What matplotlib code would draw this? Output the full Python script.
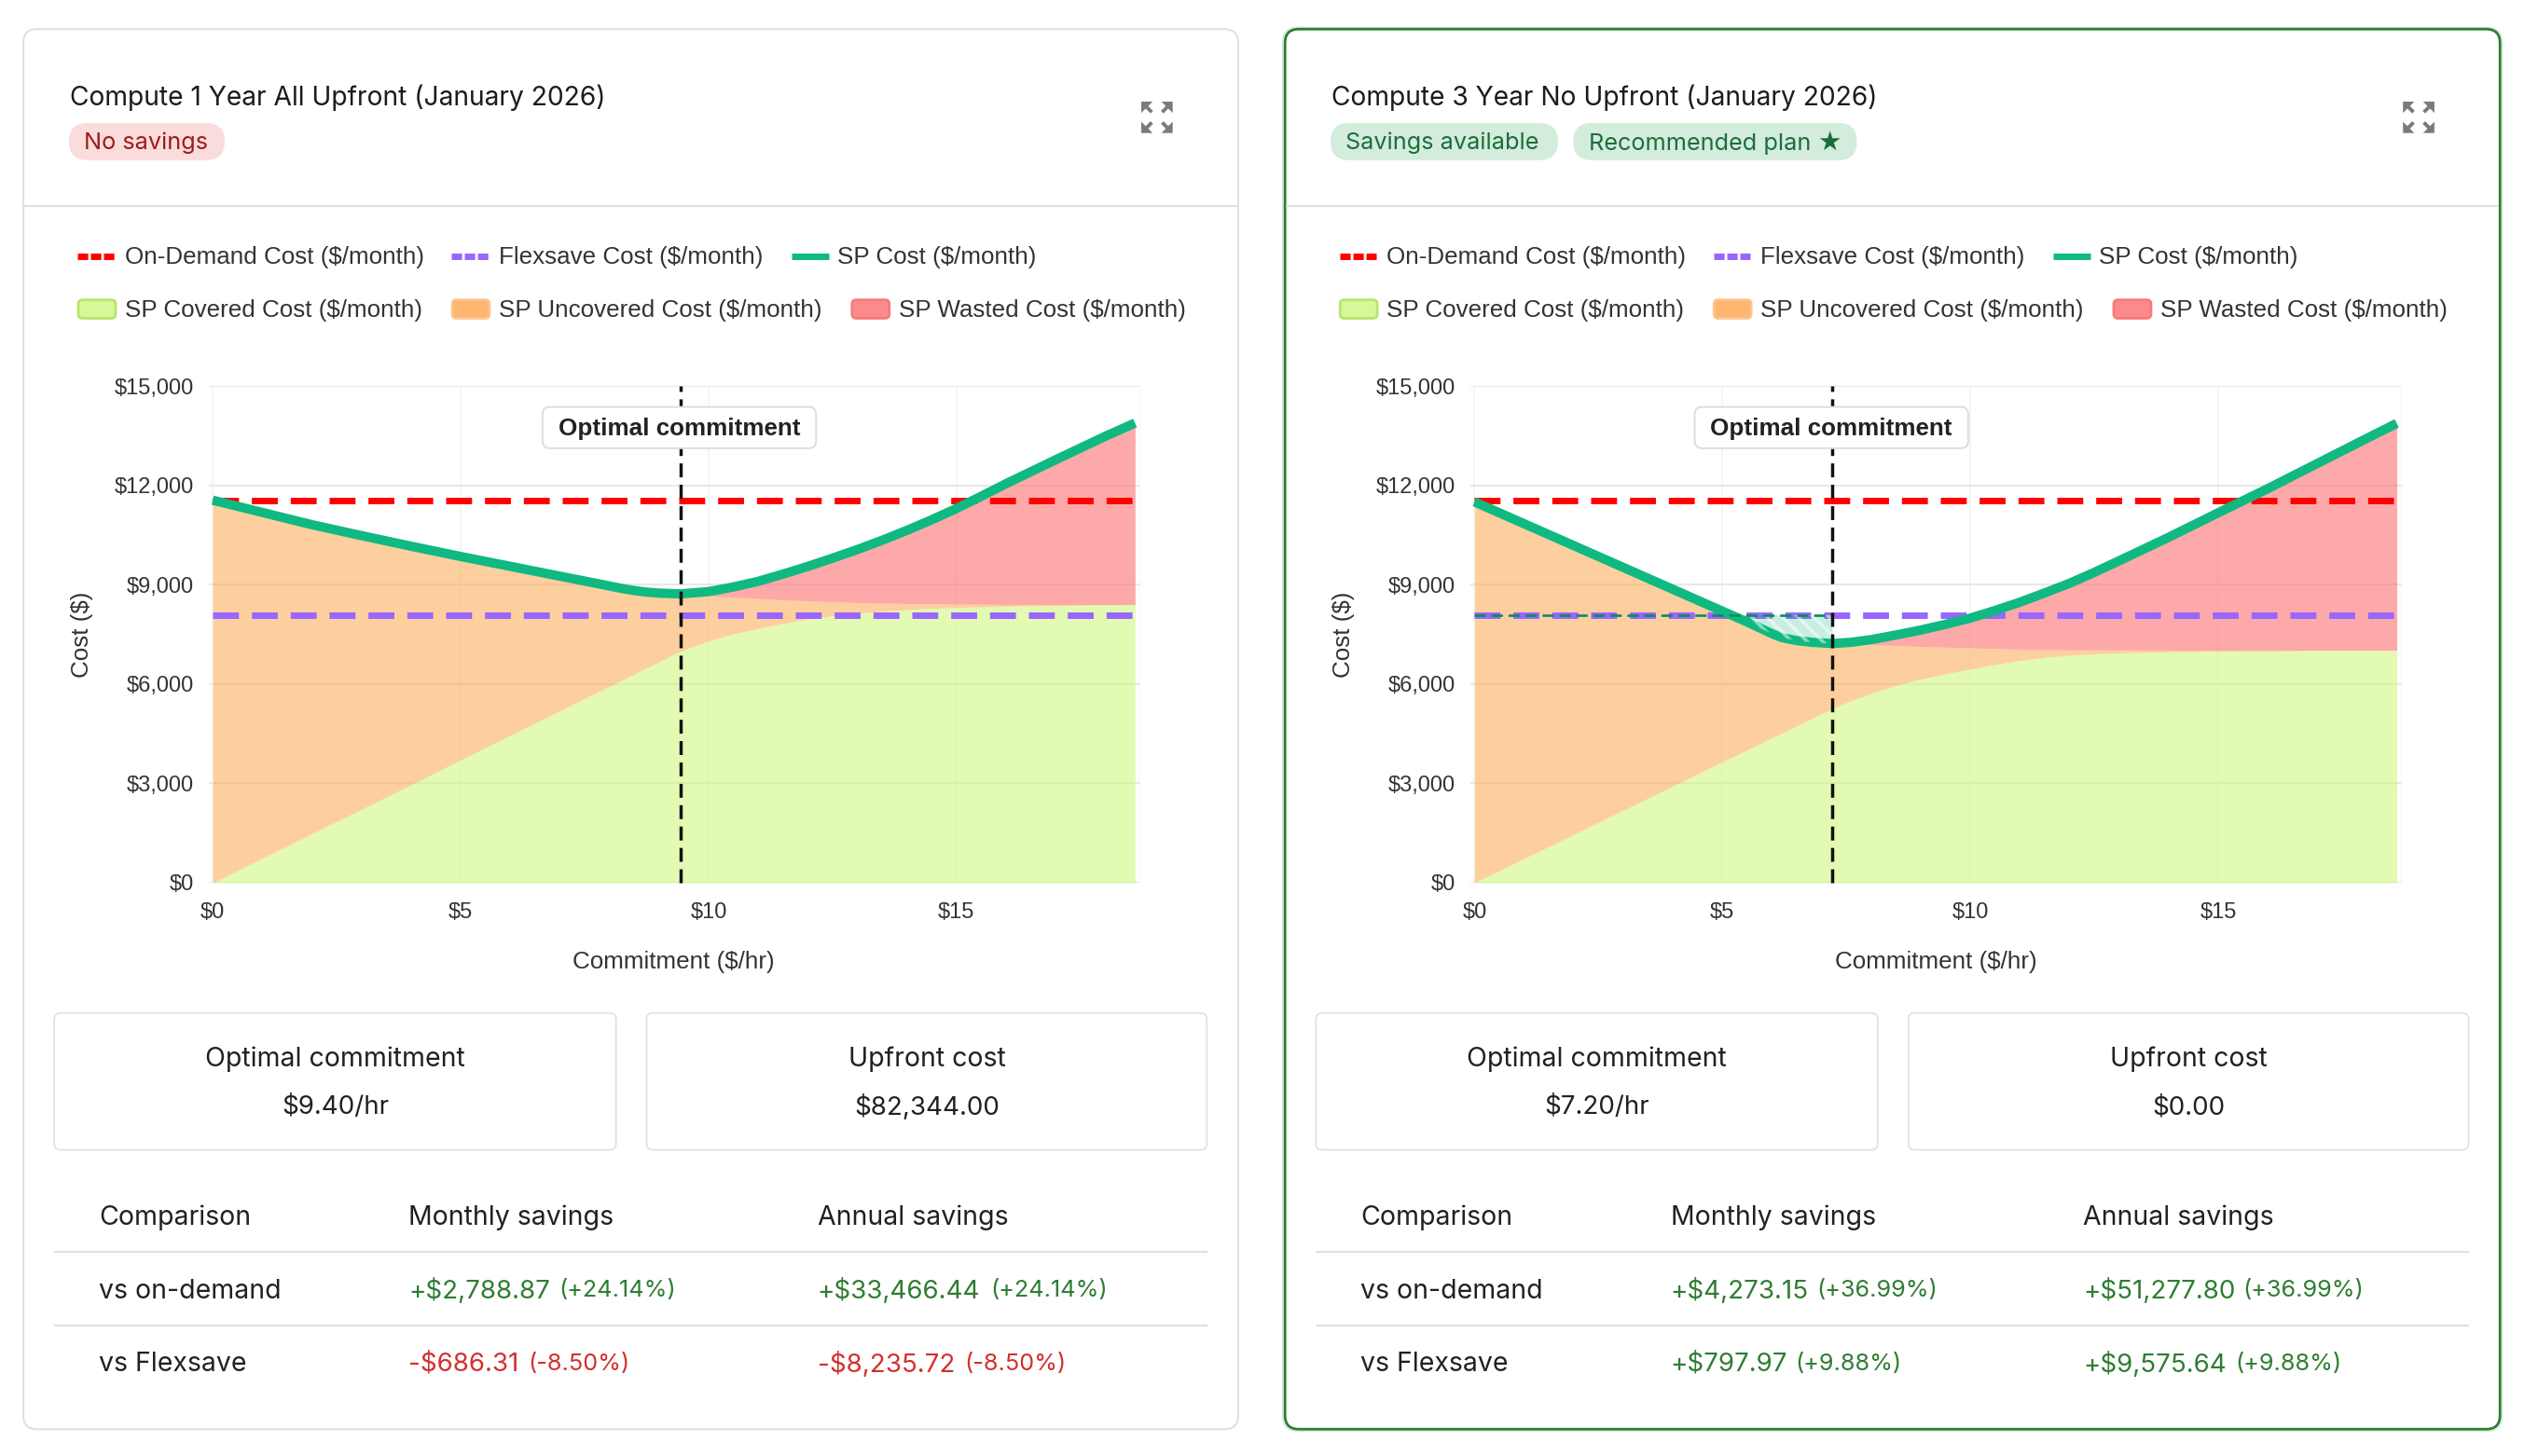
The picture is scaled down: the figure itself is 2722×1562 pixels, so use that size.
import matplotlib
matplotlib.use("Agg")
import matplotlib.pyplot as plt
from matplotlib.patches import FancyBboxPatch, Polygon
from matplotlib.ticker import FuncFormatter
import numpy as np

W, H = 2722, 1562
S = 2722 / 1568.0
plt.rcParams["hatch.linewidth"] = 2.6

# ---- data ----
on_demand = 11550
flexsave = 8080
y_ticks = [0, 3000, 6000, 9000, 12000, 15000]
x_ticks = [0, 5, 10, 15]

x_a = [0, 1, 2, 3, 4, 5, 6, 7, 8, 8.3, 8.7, 9, 9.43, 10, 10.5, 11, 11.5, 12, 12.5, 13, 13.5, 14, 14.5, 15, 15.5, 16, 17, 18, 18.6]
sp_a = [11550, 11180, 10810, 10480, 10160, 9850, 9553, 9256, 8960, 8870, 8780, 8745, 8720, 8790, 8930, 9100, 9320, 9550, 9800, 10060, 10340, 10640, 10960, 11300, 11670, 12050, 12770, 13480, 13880]
covered_a = [0, 740, 1480, 2220, 2960, 3710, 4450, 5190, 5930, 6150, 6450, 6670, 6990, 7300, 7520, 7680, 7830, 7960, 8060, 8140, 8200, 8250, 8280, 8310, 8330, 8350, 8370, 8390, 8400]
base_a = [11550, 11180, 10810, 10480, 10160, 9850, 9553, 9256, 8960, 8870, 8780, 8745, 8720, 8670, 8620, 8580, 8540, 8510, 8480, 8460, 8440, 8430, 8420, 8410, 8410, 8400, 8400, 8400, 8400]

x_b = [0, 1, 2, 3, 4, 5, 5.5, 6, 6.2, 6.5, 6.8, 7.22, 7.6, 8, 8.5, 9, 9.5, 10, 10.5, 11, 11.5, 12, 12.5, 13, 14, 15, 16, 17, 18, 18.6]
sp_b = [11500, 10840, 10180, 9520, 8860, 8200, 7870, 7520, 7400, 7310, 7260, 7220, 7260, 7340, 7480, 7630, 7800, 7990, 8220, 8470, 8750, 9040, 9370, 9720, 10430, 11170, 11900, 12660, 13420, 13870]
covered_b = [0, 730, 1460, 2190, 2920, 3650, 4010, 4380, 4520, 4740, 4960, 5260, 5500, 5720, 5960, 6150, 6310, 6450, 6590, 6710, 6810, 6870, 6910, 6940, 6970, 6990, 7000, 7010, 7020, 7020]
base_b = [11500, 10840, 10180, 9520, 8860, 8200, 7870, 7520, 7400, 7310, 7260, 7220, 7210, 7190, 7160, 7130, 7110, 7090, 7070, 7050, 7040, 7030, 7030, 7030, 7020, 7020, 7020, 7020, 7020, 7020]
opt_a, opt_b = 9.43, 7.22

legend_line = [("On-Demand Cost ($/month)", "#ff0000", 48, 77), ("Flexsave Cost ($/month)", "#9966ff", 279, 308), ("SP Cost ($/month)", "#10b981", 489, 517)]
legend_fill = [("SP Covered Cost ($/month)", "#d8f79a", "#b7e56c", 48, 77), ("SP Uncovered Cost ($/month)", "#fdb56f", "#fdc490", 279, 308), ("SP Wasted Cost ($/month)", "#fb8b8b", "#f77a7a", 526, 555)]

GREEN = "#2e7d32"
RED = "#d32f2f"
INK = "#212121"
UI = "Inter"
CH = ["Liberation Sans", "DejaVu Sans"]
CHART_TEXT = 18.7
TICK_TEXT = 17.0

fig = plt.figure(figsize=(W / 100, H / 100), dpi=100, facecolor="white")
bg = fig.add_axes([0, 0, 1, 1])
bg.set_xlim(0, W / S)
bg.set_ylim(H / S, 0)
bg.axis("off")


def box(x0, y0, x1, y1, ec, fc="white", r=5, lw=1.0, z=1, target=None):
    p = FancyBboxPatch((x0 + r, y0 + r), x1 - x0 - 2 * r, y1 - y0 - 2 * r,
                       boxstyle=f"round,pad={r},rounding_size={r}", ec=ec, fc=fc, lw=lw, zorder=z)
    (target or bg).add_patch(p)


def txt(x, y, s, size, color=INK, ha="left", family=UI, weight="normal", z=5, target=None):
    (target or bg).text(x, y - 0.7, s, fontsize=size, color=color, ha=ha, va="center_baseline",
                        family=family, weight=weight, zorder=z)


def icon(cx, cy):
    c = "#7b7b7b"
    d, a = 9.7, 7.0
    for sx in (-1, 1):
        for sy in (-1, 1):
            tip = np.array([cx + sx * d, cy + sy * d])
            bg.add_patch(Polygon([tip, tip + [-sx * a, 0], tip + [0, -sy * a]], closed=True, fc=c, ec="none", zorder=5))
            bg.plot([cx + sx * (d - 3), cx + sx * 3.2], [cy + sy * (d - 3), cy + sy * 3.2], color=c, lw=2.8,
                    solid_capstyle="butt", zorder=5)


def panel(off, title, pills, card_ec, x, sp, cov, base, opt, bx, stats, rows, cols):
    L = off
    featured = card_ec != "#e0e0e0"
    if featured:
        box(13.0 + L, 17.0, 766.3 + L, 884.3, "#cfe5d2", fc="none", r=9, lw=1.0, z=0)
    box(14.4 + L, 18, 765 + L, 883.2, card_ec, r=8.5, lw=2.0 if featured else 1.5)
    txt(43.2 + L, 59.2, title, 20.3, color="#1c1c1c")
    for (x0, x1, t, fc, col) in pills:
        box(x0 + L, 76, x1 + L, 99, "none", fc=fc, r=11.4)
        txt(x0 + 9.4 + L, 87.6, t, 18.2, color=col)
    icon(714.8 + L, 72.5)
    bg.plot([15 + L, 764.5 + L], [127.3, 127.3], color="#e0e0e0", lw=1.6, zorder=2, solid_capstyle="butt")

    for t, c, a, b in legend_line:
        if c == "#10b981":
            bg.plot([a + L, a + 23 + L], [158.5, 158.5], color=c, lw=5, solid_capstyle="butt", zorder=3)
        else:
            bg.plot([a + L, a + 23 + L], [158.5, 158.5], color=c, lw=5, dashes=(1.6, 0.42), dash_capstyle="butt", zorder=3)
        txt(b + 0.2 + L, 158.4, t, CHART_TEXT, color="#333333", family=CH)
    for t, fc, ec, a, b in legend_fill:
        bg.add_patch(FancyBboxPatch((a + 2.4 + L, 187.3), 19, 7.4, boxstyle="round,pad=2,rounding_size=2.6",
                                    fc=fc, ec=ec, lw=2.0, zorder=3))
        txt(b + 0.2 + L, 191, t, CHART_TEXT, color="#333333", family=CH)

    # chart
    px0, px1 = 129.0 + L, 704.5 + L
    py0, py1 = 238.5, 545.5
    ax = fig.add_axes([px0 * S / W, 1 - py1 * S / H, (px1 - px0) * S / W, (py1 - py0) * S / H], facecolor="none")
    xmin = -0.08
    xmax = xmin + (px1 - px0) * 18.61 / (701.6 - 131.5)
    ax.set_xlim(xmin, xmax)
    ax.set_ylim(0, 15000)
    for spine in ax.spines.values():
        spine.set_visible(False)
    ax.set_yticks(y_ticks)
    ax.set_xticks(x_ticks + [xmax])
    ax.set_xticklabels([f"${v}" for v in x_ticks] + [""])
    ax.yaxis.set_major_formatter(FuncFormatter(lambda v, _: f"${v:,.0f}"))
    ax.tick_params(axis="y", length=0, labelsize=TICK_TEXT, labelcolor="#333333", pad=11.5)
    ax.tick_params(axis="x", length=0, labelsize=TICK_TEXT, labelcolor="#333333", pad=14.8)
    for lab in ax.get_xticklabels() + ax.get_yticklabels():
        lab.set_family(CH)
    ax.grid(axis="y", color="#e8e8e8", lw=1.5, zorder=0)
    ax.grid(axis="x", color="#f3f3f3", lw=1.2, zorder=0)
    ax.set_axisbelow(True)
    xx, ss, cc, bb = map(np.array, (x, sp, cov, base))
    ax.fill_between(xx, 0, cc, color="#d0f780", alpha=0.6, lw=0, zorder=1)
    ax.fill_between(xx, cc, bb, color="#fdaf5d", alpha=0.6, lw=0, zorder=1)
    ax.fill_between(xx, bb, ss, color="#fd7171", alpha=0.6, lw=0, zorder=1)
    ax.plot([0, xx[-1]], [on_demand, on_demand], color="#ff0000", lw=5, dashes=(4, 2), dash_capstyle="butt", zorder=3)
    ax.plot([0, xx[-1]], [flexsave, flexsave], color="#9966ff", lw=5, dashes=(4, 2), dash_capstyle="butt", zorder=3)
    ax.plot(xx, ss, color="#10b981", lw=7.2, solid_capstyle="butt", solid_joinstyle="round", zorder=4, clip_on=False)
    if opt < 8:
        m = (xx >= 5.2) & (xx <= opt)
        gx = np.r_[5.3, xx[m]]
        gy = np.r_[flexsave, ss[m]]
        ax.fill_between(gx, gy, flexsave, facecolor=(0.063, 0.725, 0.506, 0.23), edgecolor=(1, 1, 1, 0.5),
                        hatch="\\\\", lw=0, zorder=4.5)
        ax.plot([0, opt], [flexsave, flexsave], color="#0c8a5f", lw=1.9, dashes=(4.6, 2.3), dash_capstyle="butt", zorder=4.6)
    ax.plot([opt, opt], [0, 15000], color="#111111", lw=2.5, dashes=(4.3, 2.3), dash_capstyle="butt", zorder=5, clip_on=False)

    bg.text(50.7 + L, 392, "Cost ($)", fontsize=CHART_TEXT, color="#333333", rotation=90, ha="center", va="center", family=CH, zorder=5)
    txt(416.3 + L, 593.5, "Commitment ($/hr)", CHART_TEXT, color="#333333", ha="center", family=CH)

    # stat boxes
    for (x0, x1), (h, v) in zip(((33.5, 380.6), (399.5, 745.6)), stats):
        box(x0 + L, 626, x1 + L, 710.6, "#e0e0e0", r=4, lw=1.2)
        txt((x0 + x1) / 2 + L, 653.5, h, 20.5, ha="center")
        txt((x0 + x1) / 2 + L, 683.5, v, 20.0, ha="center")

    # table
    c2, c3 = cols
    txt(61 + L, 751.7, "Comparison", 20.5)
    txt(c2, 751.7, "Monthly savings", 20.5)
    txt(c3, 751.7, "Annual savings", 20.5)
    bg.plot([33.5 + L, 746 + L], [773.4, 773.4], color="#e0e0e0", lw=1.6, solid_capstyle="butt")
    bg.plot([33.5 + L, 746 + L], [819, 819], color="#e0e0e0", lw=1.6, solid_capstyle="butt")
    for yy, (lab, m_, mp, mpx, a_, ap, apx, col) in zip((796.8, 842.3), rows):
        txt(61 + L, yy, lab, 20.5)
        txt(c2, yy, m_, 20.0, color=col)
        txt(mpx, yy, mp, 18.2, color=col)
        txt(c3, yy, a_, 20.0, color=col)
        txt(apx, yy, ap, 18.2, color=col)

    # label box sits above the chart axes
    top = fig.add_axes([0, 0, 1, 1], facecolor="none")
    top.set_xlim(0, W / S)
    top.set_ylim(H / S, 0)
    top.axis("off")
    box(bx - 84.5 + L, 251.5, bx + 84.5 + L, 277, "#dddddd", r=4.5, lw=1.4, z=6, target=top)
    txt(bx + L, 264, "Optimal commitment", CHART_TEXT, color="#222222", ha="center", family=CH, weight="bold", z=7, target=top)


panel(0, "Compute 1 Year All Upfront (January 2026)",
      [(42.6, 138.8, "No savings", "#fadcdc", "#9b1c1c")], "#e0e0e0",
      x_a, sp_a, covered_a, base_a, opt_a, 419.7,
      [("Optimal commitment", "$9.40/hr"), ("Upfront cost", "$82,344.00")],
      [("vs on-demand", "+$2,788.87", "(+24.14%)", 345.4, "+$33,466.44", "(+24.14%)", 612, GREEN),
       ("vs Flexsave", "-$686.31", "(-8.50%)", 326.3, "-$8,235.72", "(-8.50%)", 596, RED)],
      (252.5, 505))
panel(779.5, "Compute 3 Year No Upfront (January 2026)",
      [(42.6, 183, "Savings available", "#d3ecdc", "#1b6e3a"), (192.5, 367.7, "Recommended plan \u2605", "#d3ecdc", "#1b6e3a")], GREEN,
      x_b, sp_b, covered_b, base_b, opt_b, 352,
      [("Optimal commitment", "$7.20/hr"), ("Upfront cost", "$0.00")],
      [("vs on-demand", "+$4,273.15", "(+36.99%)", 1122, "+$51,277.80", "(+36.99%)", 1385.5, GREEN),
       ("vs Flexsave", "+$797.97", "(+9.88%)", 1109, "+$9,575.64", "(+9.88%)", 1381, GREEN)],
      (1032, 1287))

fig.savefig("out.png", dpi=100)
